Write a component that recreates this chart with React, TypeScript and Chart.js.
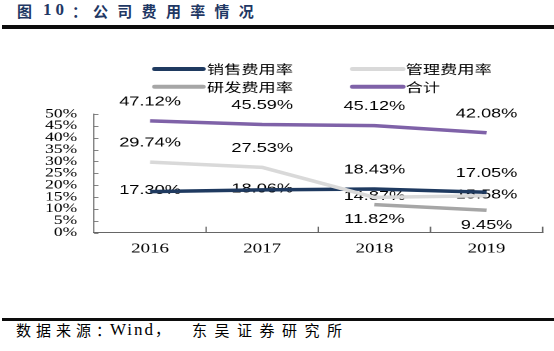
import { useEffect, useRef } from "react";
import { Chart, registerables } from "chart.js";

Chart.register(...registerables);

// ---- data ----
const categories = ["2016", "2017", "2018", "2019"];
const seriesNames = ["销售费用率", "管理费用率", "研发费用率", "合计"];
const salesRate = [17.3, 18.06, 18.43, 17.05];
const mgmtRate = [29.74, 27.53, 14.87, 15.58];
const rdRate = [null, null, 11.82, 9.45];
const totalRate = [47.12, 45.59, 45.12, 42.08];
const yMin = 0;
const yMax = 50;
const yStep = 5;

// label placement per series (style)
const labelPlacement: string[][] = [
  ["center", "center", "above", "above"],
  ["above", "above", "center", "center"],
  ["", "", "below", "below"],
  ["above", "above", "above", "above"],
];
const placementOffset: Record<string, number> = { above: -19, center: -1, below: 15 };

const colors = ["#1F3A60", "#D9D9D9", "#A6A6A6", "#7F62A8"];

// ---- layout (unscaled canvas coordinates) ----
const CW = 396;
const CH = 270;
const SX = 554 / CW;

const insideTicksPlugin = {
  id: "insideTicks",
  afterDraw(chart: any) {
    const { ctx, chartArea, scales } = chart;
    const x = scales.x;
    const y = scales.y;
    ctx.save();
    ctx.strokeStyle = "#666";
    ctx.lineWidth = 0.8;
    y.ticks.forEach((t: any) => {
      const py = Math.round(y.getPixelForValue(t.value)) + 0.5;
      ctx.beginPath();
      ctx.moveTo(chartArea.left, py);
      ctx.lineTo(chartArea.left + 3.2, py);
      ctx.stroke();
    });
    ctx.lineWidth = 1;
    const n = categories.length;
    for (let i = 1; i <= n; i++) {
      const px =
        i === n
          ? chartArea.right
          : (x.getPixelForValue(i - 1) + x.getPixelForValue(i)) / 2;
      ctx.beginPath();
      ctx.moveTo(px, chartArea.bottom);
      ctx.lineTo(px, chartArea.bottom - 6);
      ctx.stroke();
    }
    ctx.restore();
  },
};

const dataLabelsPlugin = {
  id: "dataLabels",
  beforeDatasetsDraw(chart: any) {
    const { ctx } = chart;
    ctx.save();
    ctx.font = '13px "Liberation Sans"';
    ctx.fillStyle = "#000";
    ctx.textAlign = "center";
    ctx.textBaseline = "middle";
    chart.data.datasets.forEach((ds: any, di: number) => {
      const meta = chart.getDatasetMeta(di);
      meta.data.forEach((pt: any, i: number) => {
        const v = ds.data[i];
        if (v === null || v === undefined) return;
        const off = placementOffset[labelPlacement[di][i]] ?? 0;
        ctx.fillText(v.toFixed(2) + "%", pt.x, pt.y + off);
      });
    });
    ctx.restore();
  },
};

const legendPlugin = {
  id: "gridLegend",
  afterDraw(chart: any) {
    const { ctx } = chart;
    const cols = [
      { x0: 110.7, x1: 145, tx: 147.9 },
      { x0: 252.1, x1: 287.9, tx: 290 },
    ];
    const rows = [39, 56.7];
    ctx.save();
    ctx.font = '12.3px "Noto Sans CJK SC"';
    ctx.textBaseline = "middle";
    ctx.textAlign = "left";
    chart.data.datasets.forEach((ds: any, i: number) => {
      const c = cols[i % 2];
      const r = rows[Math.floor(i / 2)];
      ctx.strokeStyle = ds.borderColor;
      ctx.lineWidth = 4;
      ctx.lineCap = "round";
      ctx.beginPath();
      ctx.moveTo(c.x0, r);
      ctx.lineTo(c.x1, r);
      ctx.stroke();
      ctx.fillStyle = "#000";
      ctx.fillText(ds.label, c.tx, r + 0.5);
    });
    ctx.restore();
  },
};

export default function App() {
  const ref = useRef<HTMLCanvasElement>(null);

  useEffect(() => {
    const canvas = ref.current!;
    const seriesData = [salesRate, mgmtRate, rdRate, totalRate];
    const drawOrder = [2, 1, 3, 4];
    const chart = new Chart(canvas, {
      type: "line",
      data: {
        labels: categories,
        datasets: seriesData.map((d, i) => ({
          label: seriesNames[i],
          data: d as any,
          borderColor: colors[i],
          backgroundColor: colors[i],
          borderWidth: 3.5,
          pointRadius: 0,
          tension: 0,
          fill: false,
          spanGaps: false,
          order: drawOrder[i],
          borderCapStyle: "butt" as const,
        })),
      },
      options: {
        responsive: false,
        animation: false,
        devicePixelRatio: 2,
        layout: { padding: { top: 84, left: 0, right: 8.1, bottom: 0 } },
        plugins: {
          legend: { display: false },
          tooltip: { enabled: false },
          title: { display: false },
        },
        scales: {
          x: {
            offset: true,
            grid: { display: false, drawTicks: false },
            border: { display: true, color: "#666", width: 1 },
            ticks: {
              padding: 8,
              color: "#000",
              font: { family: '"Liberation Serif", serif', size: 13.5 },
            },
            afterFit: (s: any) => {
              s.height = CH - 202.7;
            },
          },
          y: {
            min: yMin,
            max: yMax,
            grid: { display: false, drawTicks: false },
            border: { display: true, color: "#666", width: 0.8 },
            ticks: {
              stepSize: yStep,
              autoSkip: false,
              padding: 12,
              color: "#000",
              font: { family: '"Liberation Serif", serif', size: 12.5 },
              callback: (v: any) => v + "%",
            },
            afterFit: (s: any) => {
              s.width = 67.14;
            },
          },
        },
      },
      plugins: [dataLabelsPlugin, insideTicksPlugin, legendPlugin],
    });
    return () => chart.destroy();
  }, []);

  const titleColor = "#1F3864";
  const abs = (extra: any) => ({ position: "absolute" as const, whiteSpace: "nowrap" as const, ...extra });

  return (
    <div style={{ position: "absolute", left: 0, top: 0, width: 554, height: 351, overflow: "hidden", background: "#fff" }}>
      <div style={abs({ left: 17, top: 3, fontFamily: '"Noto Sans CJK SC"', fontWeight: 700, fontSize: 15, lineHeight: "15px", color: titleColor })}>图</div>
      <div style={abs({ left: 43, top: 1, fontFamily: '"Liberation Serif"', fontWeight: 700, fontSize: 17, lineHeight: "17px", letterSpacing: "4px", color: titleColor })}>10</div>
      <div style={abs({ left: 72, top: 3, fontFamily: '"Noto Sans CJK SC"', fontWeight: 700, fontSize: 15, lineHeight: "15px", color: titleColor })}>：</div>
      <div style={abs({ left: 93, top: 3, fontFamily: '"Noto Sans CJK SC"', fontWeight: 700, fontSize: 15, lineHeight: "15px", letterSpacing: "9.3px", color: titleColor })}>公司费用率情况</div>
      <div style={abs({ left: 2, top: 25, width: 552, height: 4, background: "#0d0d0d" })} />

      <div style={abs({ left: 0, top: 30, width: CW, height: CH, transform: `scaleX(${SX})`, transformOrigin: "0 0" })}>
        <canvas ref={ref} width={CW} height={CH} />
      </div>

      <div style={abs({ left: 2, top: 318, width: 552, height: 3, background: "#0d0d0d" })} />
      <div style={abs({ left: 16, top: 322, fontFamily: '"Noto Sans CJK SC"', fontSize: 15, lineHeight: "15px", letterSpacing: "5px", color: "#000" })}>数据来源：</div>
      <div style={abs({ left: 110, top: 320, fontFamily: '"Liberation Serif", "Noto Sans CJK SC"', fontSize: 17, lineHeight: "18px", letterSpacing: "2px", color: "#000" })}>Wind<span style={{ fontFamily: '"Noto Sans CJK SC"', fontSize: 15 }}>，</span></div>
      <div style={abs({ left: 192, top: 322, fontFamily: '"Noto Sans CJK SC"', fontSize: 15, lineHeight: "15px", letterSpacing: "7.5px", color: "#000" })}>东吴证券研究所</div>
    </div>
  );
}
